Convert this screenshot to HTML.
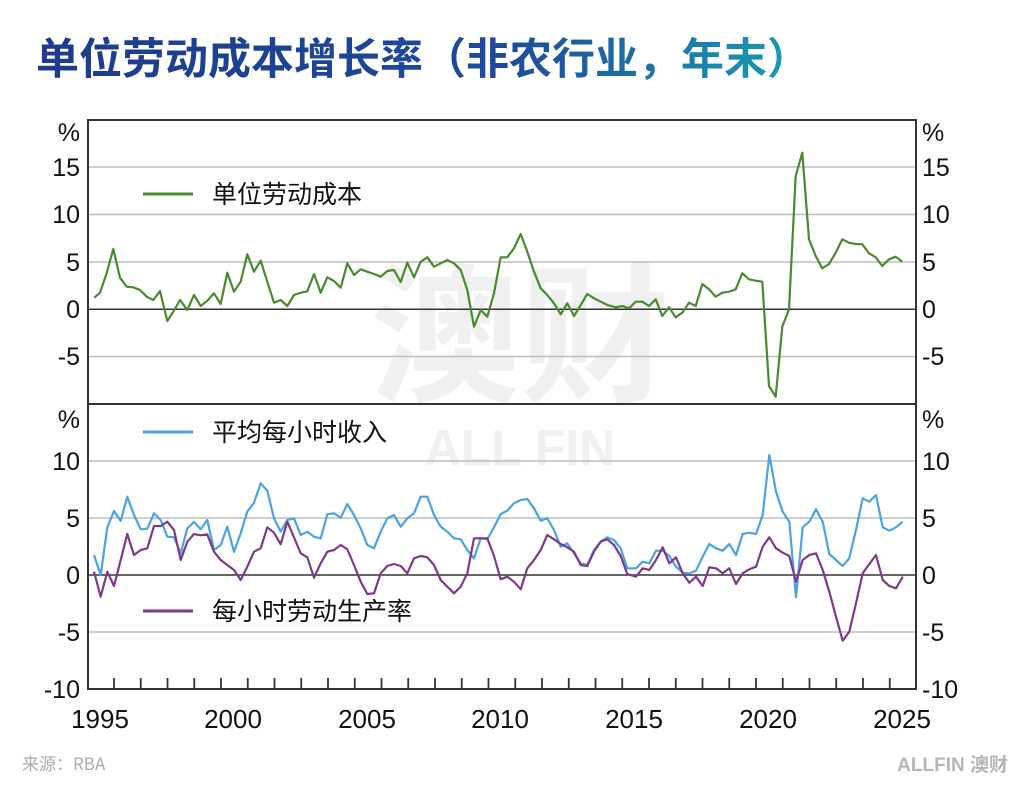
<!DOCTYPE html>
<html><head><meta charset="utf-8"><style>
body{margin:0;width:1024px;height:796px;background:#fff;overflow:hidden;font-family:"Liberation Sans","Noto Sans CJK SC",sans-serif}
</style></head><body>
<svg width="1024" height="796" viewBox="0 0 1024 796" xmlns="http://www.w3.org/2000/svg" font-family="Liberation Sans, Noto Sans CJK SC, sans-serif">
<defs><linearGradient id="tg" x1="0" x2="1"><stop offset="0" stop-color="#1d3b8f"/><stop offset="0.6" stop-color="#1d4a9a"/><stop offset="1" stop-color="#1aa0b2"/></linearGradient></defs>
<text x="36" y="74" font-size="43" font-weight="bold" fill="url(#tg)" font-family="Noto Sans CJK SC, sans-serif">单位劳动成本增长率（非农行业，年末）</text>
<text x="520" y="390" font-size="150" font-weight="bold" fill="#f0f0f0" text-anchor="middle" font-family="Noto Sans CJK SC, sans-serif">澳财</text>
<text x="520" y="465" font-size="50" font-weight="bold" fill="#f0f0f0" text-anchor="middle">ALL FIN</text>
<g stroke="#bdbdbd" stroke-width="1.5">
<line x1="88" x2="916" y1="167" y2="167"/><line x1="88" x2="916" y1="214.5" y2="214.5"/><line x1="88" x2="916" y1="262" y2="262"/><line x1="88" x2="916" y1="356.5" y2="356.5"/>
<line x1="88" x2="916" y1="461" y2="461"/><line x1="88" x2="916" y1="518" y2="518"/><line x1="88" x2="916" y1="632" y2="632"/>
</g>
<g stroke="#333" stroke-width="1.5">
<line x1="88" x2="916" y1="309.3" y2="309.3"/><line x1="88" x2="916" y1="575" y2="575"/>
</g>
<polyline fill="none" stroke="#4a8a2e" stroke-width="2.2" stroke-linejoin="round" points="94.3,297.7 100,292.7 106.7,273 113.3,249 120,277.7 126.7,286.7 133.3,287.3 140,290 146.7,296.7 153.3,300 160,291 167.3,321 173.3,311.7 180,300 187.3,310 194,295 200.7,306 207.3,300.7 214,293.3 220.7,304 227.3,272.7 234,291.7 240.7,281.7 247.3,254.3 254,271.7 260.7,260.7 267.3,281.7 274,302.7 280.7,300 287.3,306 294,295 300.7,292.7 307.3,291.3 314,274 320.7,292.7 327.3,277.3 334,281 340.7,287.7 347.3,263.3 354,275 360.7,269.3 367.3,271.7 374,274 380.7,276.7 387.3,271 394,270 400.7,282 407.3,262.7 414,277.3 420.7,261.7 427.3,257.3 434,266.7 440.7,263.3 447.3,260 454,263.3 460.7,270 467.3,290 474,326.7 480.7,310 487.3,316.7 494,293.3 500.7,257.3 507.3,257.3 514,248.3 520.7,234 527.3,251.7 534,271.7 540.7,288.3 547.3,295 554,303.3 560.7,314.3 567.3,303.3 574,316 580.7,305 587.3,294 594,298.3 600.7,301.7 607.3,305 615.7,307.3 622.3,306 629,308.3 635.7,301.7 642.3,301.7 649,306 655.7,299.3 662.3,316 669,307.3 675.7,317.3 682.3,312.7 689,302.7 695.7,306 702.3,284 709,289.3 715.7,296.7 722.3,292.7 729,291.7 735.7,289.3 742.3,273.3 749,279.3 755.7,280.7 762.3,281.7 769,386 775.7,396.7 782.3,326.7 789,309.3 795.7,176 802.3,152.7 809,239.3 815.7,256 822.3,268.3 829,264 835.7,252.7 842.3,239.3 849,242.7 855.7,244 862.3,244.3 869,253.3 875.7,257.3 882.3,266 889,259.3 895.7,256.7 902.3,261.7"/>
<polyline fill="none" stroke="#4aa3e2" stroke-width="2.2" stroke-linejoin="round" points="94,555 100.7,575 107.3,527.3 114,511 120.7,520.7 127.3,496.7 134,515 140.7,529.3 147.3,528.7 154,513.3 160.7,520 167.3,536.7 174,537.3 180.7,553.3 187.3,528.3 194,522 200.7,529.3 207.3,520 214,550 220.7,545 227.3,526.7 234,551.7 240.7,533.3 247.3,511.7 254,502.7 260.7,483.3 267.3,490.7 274,518.3 280.7,531.7 287.3,520 294,518.3 300.7,535 307.3,531.7 314,536.7 320.7,538.3 327.3,514.3 334,513.3 340.7,517.7 347.3,504 354,515 360.7,528.3 367.3,545 374,548.3 380.7,531.7 387.3,518.3 394,515 400.7,526.7 407.3,518.3 414,513.3 420.7,496.7 427.3,496.7 434,515 440.7,526.7 447.3,531.7 454,538.3 460.7,539.3 467.3,550 474,558.3 480.7,538.3 487.3,539.3 494,527.3 500.7,514 507.3,510.7 514,503.3 520.7,500 527.3,499 534,508.3 540.7,520.7 547.3,518.3 554,530 560.7,546.7 567.3,543.3 574,553.3 580.7,563.3 587.3,565 594,550 600.7,541.7 607.3,537.3 614,540 620.7,548.3 627.3,568.3 636,568.3 642.7,561.7 649.3,563.3 656,550.7 662.7,550.7 669.3,556 676,566.7 682.7,572.7 689.3,573.3 696,570.7 702.7,556.7 709.3,544 716,548.3 722.7,550.7 729.3,544 736,555 742.7,534 749.3,532.7 756,534 762.7,515 769.3,455 776,491.7 782.7,511.7 789.3,521.7 796,597.3 802.7,527.3 809.3,521.7 816,509.3 822.7,521.7 829.3,554 836,560 842.7,566 849.3,558.3 856,530 862.7,498.3 869.3,501.7 876,495 882.7,527.3 889.3,530.7 896,527.3 902.7,521.7"/>
<polyline fill="none" stroke="#7d3a8c" stroke-width="2.2" stroke-linejoin="round" points="94,571.7 100.7,596.7 107.3,571.7 114,586 120.7,560 127.3,534 134,555 140.7,550 147.3,548.3 154,526 160.7,526 167.3,521.7 174,530 180.7,560 187.3,541.7 194,534 200.7,535.3 207.3,534.3 214,551.7 220.7,560 227.3,565 234,570 240.7,580 247.3,566.7 254,551.7 260.7,548.3 267.3,527.3 274,532.7 280.7,544.3 287.3,521.7 294,537.3 300.7,553.3 307.3,557.3 314,577.7 320.7,563.3 327.3,551.7 334,550 340.7,545 347.3,549.3 354,565 360.7,581.7 367.3,594 374,593.3 380.7,573.3 387.3,566 394,564 400.7,566 407.3,573.3 414,558.3 420.7,556 427.3,557.3 434,565 440.7,580 447.3,586.7 454,593.3 460.7,586.7 467.3,573.3 474,538.3 480.7,538.3 487.3,538.3 494,556 500.7,579.3 507.3,576.7 514,581.7 520.7,589.3 527.3,568.3 534,560 540.7,550 547.3,535 554,539.3 560.7,544 567.3,547.3 574,551.7 580.7,565 587.3,566 594,551.7 600.7,541.7 607.3,539.3 614,545 620.7,556 627.3,574 636,576.7 642.7,568.3 649.3,570 656,560 662.7,547.3 669.3,563.3 676,557.3 682.7,573.3 689.3,582.7 696,576.7 702.7,586 709.3,567.3 716,568.3 722.7,573.3 729.3,568.3 736,584 742.7,573.3 749.3,569.3 756,566.7 762.7,546.7 769.3,537.3 776,548.3 782.7,552.7 789.3,556 796,581.7 802.7,560 809.3,555 816,553.3 822.7,570 829.3,591.7 836,616.7 842.7,640.7 849.3,631.7 856,603.3 862.7,573.3 869.3,564 876,555 882.7,580 889.3,586 896,588.3 902.7,576.7"/>
<g stroke="#333" stroke-width="2" fill="none">
<rect x="88" y="120" width="828" height="569"/>
<line x1="88" x2="916" y1="404" y2="404"/>
</g>
<g stroke="#333" stroke-width="1.8">
<line x1="114" x2="114" y1="689" y2="678"/><line x1="140.75" x2="140.75" y1="689" y2="678"/><line x1="167.5" x2="167.5" y1="689" y2="678"/><line x1="194.25" x2="194.25" y1="689" y2="678"/><line x1="221" x2="221" y1="689" y2="678"/><line x1="247.75" x2="247.75" y1="689" y2="678"/><line x1="274.5" x2="274.5" y1="689" y2="678"/><line x1="301.25" x2="301.25" y1="689" y2="678"/><line x1="328" x2="328" y1="689" y2="678"/><line x1="354.75" x2="354.75" y1="689" y2="678"/><line x1="381.5" x2="381.5" y1="689" y2="678"/><line x1="408.25" x2="408.25" y1="689" y2="678"/><line x1="435" x2="435" y1="689" y2="678"/><line x1="461.75" x2="461.75" y1="689" y2="678"/><line x1="488.5" x2="488.5" y1="689" y2="678"/><line x1="515.25" x2="515.25" y1="689" y2="678"/><line x1="542" x2="542" y1="689" y2="678"/><line x1="568.75" x2="568.75" y1="689" y2="678"/><line x1="595.5" x2="595.5" y1="689" y2="678"/><line x1="622.25" x2="622.25" y1="689" y2="678"/><line x1="649" x2="649" y1="689" y2="678"/><line x1="675.75" x2="675.75" y1="689" y2="678"/><line x1="702.5" x2="702.5" y1="689" y2="678"/><line x1="729.25" x2="729.25" y1="689" y2="678"/><line x1="756" x2="756" y1="689" y2="678"/><line x1="782.75" x2="782.75" y1="689" y2="678"/><line x1="809.5" x2="809.5" y1="689" y2="678"/><line x1="836.25" x2="836.25" y1="689" y2="678"/><line x1="863" x2="863" y1="689" y2="678"/><line x1="889.75" x2="889.75" y1="689" y2="678"/>
</g>
<g font-size="25" fill="#111" text-anchor="end">
<text x="80" y="141">%</text><text x="80" y="176">15</text><text x="80" y="223">10</text><text x="80" y="271">5</text><text x="80" y="318">0</text><text x="80" y="365">-5</text>
<text x="80" y="428">%</text><text x="80" y="470">10</text><text x="80" y="527">5</text><text x="80" y="584">0</text><text x="80" y="641">-5</text><text x="80" y="698">-10</text>
</g>
<g font-size="25" fill="#111">
<text x="922" y="141">%</text><text x="922" y="176">15</text><text x="922" y="223">10</text><text x="922" y="271">5</text><text x="922" y="318">0</text><text x="922" y="365">-5</text>
<text x="922" y="428">%</text><text x="922" y="470">10</text><text x="922" y="527">5</text><text x="922" y="584">0</text><text x="922" y="641">-5</text><text x="922" y="698">-10</text>
</g>
<g font-size="26" fill="#111" text-anchor="middle">
<text x="100" y="728">1995</text><text x="233" y="728">2000</text><text x="367" y="728">2005</text><text x="500" y="728">2010</text><text x="634" y="728">2015</text><text x="768" y="728">2020</text><text x="902" y="728">2025</text>
</g>
<line x1="143" x2="193" y1="194" y2="194" stroke="#4a8a2e" stroke-width="3"/>
<text x="212" y="203" font-size="25" fill="#111" font-family="Noto Sans CJK SC, sans-serif">单位劳动成本</text>
<line x1="143" x2="193" y1="432" y2="432" stroke="#4aa3e2" stroke-width="3"/>
<text x="212" y="441" font-size="25" fill="#111" font-family="Noto Sans CJK SC, sans-serif">平均每小时收入</text>
<line x1="143" x2="193" y1="611" y2="611" stroke="#7d3a8c" stroke-width="3"/>
<text x="212" y="620" font-size="25" fill="#111" font-family="Noto Sans CJK SC, sans-serif">每小时劳动生产率</text>
<text x="22" y="770" font-size="17" fill="#aaa" font-family="Noto Sans CJK SC, sans-serif">来源：RBA</text>
<text x="1008" y="771" font-size="19" font-weight="bold" fill="#b5b5b5" text-anchor="end" font-family="Liberation Sans, Noto Sans CJK SC, sans-serif">ALLFIN 澳财</text>
</svg>
</body></html>
